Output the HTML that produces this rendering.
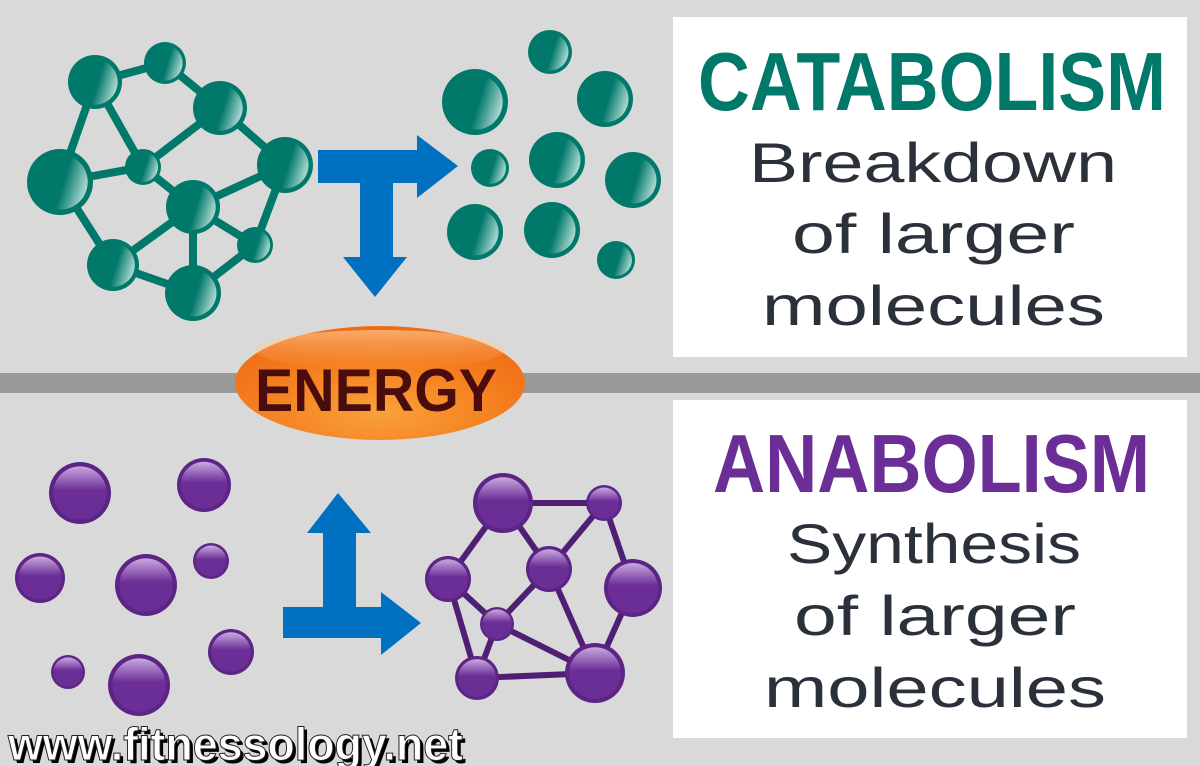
<!DOCTYPE html>
<html><head><meta charset="utf-8"><style>
html,body{margin:0;padding:0;background:#d9d9d9;}
svg{display:block;}
</style></head><body>
<svg width="1200" height="766" viewBox="0 0 1200 766" xmlns="http://www.w3.org/2000/svg">
<defs>
<linearGradient id="tg" x1="0" y1="0.2" x2="1" y2="0.5">
<stop offset="0" stop-color="#00786a"/><stop offset="0.6" stop-color="#00786a"/><stop offset="1" stop-color="#a8d6ce"/>
</linearGradient>
<linearGradient id="pg" x1="0" y1="0" x2="0" y2="1">
<stop offset="0" stop-color="#c9a9e0"/><stop offset="0.45" stop-color="#6b2e96"/><stop offset="1" stop-color="#6b2e96"/>
</linearGradient>
<radialGradient id="og" cx="0.5" cy="0.75" r="0.7">
<stop offset="0" stop-color="#f9a23a"/><stop offset="0.6" stop-color="#f47f1f"/><stop offset="1" stop-color="#f06c12"/>
</radialGradient>
<linearGradient id="oh" x1="0" y1="0" x2="0" y2="1">
<stop offset="0" stop-color="#ffd6a8" stop-opacity="0.6"/><stop offset="1" stop-color="#ffb060" stop-opacity="0"/>
</linearGradient>
<g id="ts"><circle r="1" fill="#00786a"/><circle r="0.84" fill="url(#tg)"/></g>
<g id="ps"><circle r="1" fill="#5c2585"/><circle r="0.86" fill="url(#pg)"/></g>
</defs>
<rect width="1200" height="766" fill="#d9d9d9"/>
<rect x="0" y="373" width="1200" height="20" fill="#999999"/>
<rect x="673" y="17" width="514" height="340" fill="#fff"/>
<rect x="673" y="400" width="514" height="338" fill="#fff"/>

<g stroke="#00786a" stroke-width="8">
<line x1="95" y1="82" x2="165" y2="63"/><line x1="165" y1="63" x2="220" y2="108"/>
<line x1="95" y1="82" x2="60" y2="182"/><line x1="95" y1="82" x2="143" y2="167"/>
<line x1="220" y1="108" x2="143" y2="167"/><line x1="220" y1="108" x2="285" y2="165"/>
<line x1="60" y1="182" x2="143" y2="167"/><line x1="143" y1="167" x2="193" y2="207"/>
<line x1="193" y1="207" x2="285" y2="165"/><line x1="285" y1="165" x2="255" y2="245"/>
<line x1="193" y1="207" x2="255" y2="245"/><line x1="193" y1="207" x2="113" y2="265"/>
<line x1="193" y1="207" x2="193" y2="293"/><line x1="60" y1="182" x2="113" y2="265"/>
<line x1="113" y1="265" x2="193" y2="293"/><line x1="193" y1="293" x2="255" y2="245"/>
</g>
<use href="#ts" transform="translate(95,82) scale(27)"/>
<use href="#ts" transform="translate(165,63) scale(21)"/>
<use href="#ts" transform="translate(220,108) scale(27)"/>
<use href="#ts" transform="translate(285,165) scale(28)"/>
<use href="#ts" transform="translate(60,182) scale(33)"/>
<use href="#ts" transform="translate(143,167) scale(18)"/>
<use href="#ts" transform="translate(193,207) scale(27)"/>
<use href="#ts" transform="translate(255,245) scale(18)"/>
<use href="#ts" transform="translate(113,265) scale(26)"/>
<use href="#ts" transform="translate(193,293) scale(28)"/>

<use href="#ts" transform="translate(550,52) scale(22)"/>
<use href="#ts" transform="translate(475,102) scale(33)"/>
<use href="#ts" transform="translate(605,99) scale(28)"/>
<use href="#ts" transform="translate(490,168) scale(19)"/>
<use href="#ts" transform="translate(557,160) scale(28)"/>
<use href="#ts" transform="translate(633,180) scale(28)"/>
<use href="#ts" transform="translate(475,232) scale(28)"/>
<use href="#ts" transform="translate(552,230) scale(28)"/>
<use href="#ts" transform="translate(616,260) scale(19)"/>

<path d="M318,150 H417 V135 L458,166 L417,198 V183 H393 V257 H407 L375,297 L343,257 H360 V183 H318 Z" fill="#0070c0"/>
<path d="M338,493 L371,533 H356 V607 H381 V592 L421,623 L381,655 V638 H283 V607 H323 V533 H307 Z" fill="#0070c0"/>

<use href="#ps" transform="translate(80,493) scale(31)"/>
<use href="#ps" transform="translate(204,485) scale(27)"/>
<use href="#ps" transform="translate(40,578) scale(25)"/>
<use href="#ps" transform="translate(146,585) scale(31)"/>
<use href="#ps" transform="translate(211,561) scale(18)"/>
<use href="#ps" transform="translate(231,652) scale(23)"/>
<use href="#ps" transform="translate(68,672) scale(17)"/>
<use href="#ps" transform="translate(139,685) scale(31)"/>

<g stroke="#4f1f73" stroke-width="6">
<line x1="503" y1="503" x2="604" y2="503"/><line x1="503" y1="503" x2="448" y2="579"/>
<line x1="503" y1="503" x2="549" y2="569"/><line x1="604" y1="503" x2="549" y2="569"/>
<line x1="604" y1="503" x2="633" y2="588"/><line x1="448" y1="579" x2="497" y2="624"/>
<line x1="448" y1="579" x2="477" y2="678"/><line x1="549" y1="569" x2="497" y2="624"/>
<line x1="549" y1="569" x2="595" y2="673"/><line x1="497" y1="624" x2="477" y2="678"/>
<line x1="497" y1="624" x2="595" y2="673"/><line x1="477" y1="678" x2="595" y2="673"/>
<line x1="633" y1="588" x2="595" y2="673"/>
</g>
<use href="#ps" transform="translate(503,503) scale(30)"/>
<use href="#ps" transform="translate(604,503) scale(18)"/>
<use href="#ps" transform="translate(448,579) scale(23)"/>
<use href="#ps" transform="translate(549,569) scale(23)"/>
<use href="#ps" transform="translate(633,588) scale(29)"/>
<use href="#ps" transform="translate(497,624) scale(17)"/>
<use href="#ps" transform="translate(477,678) scale(22)"/>
<use href="#ps" transform="translate(595,673) scale(30)"/>

<ellipse cx="380" cy="383" rx="145" ry="57" fill="url(#og)"/>
<ellipse cx="380" cy="350" rx="125" ry="20" fill="url(#oh)"/>
<text x="376" y="411" font-family="Liberation Sans, sans-serif" font-weight="bold" font-size="60" fill="#4a0c0c" text-anchor="middle" textLength="242" lengthAdjust="spacingAndGlyphs">ENERGY</text>

<g font-family="Liberation Sans, sans-serif">
<text x="698" y="110" font-weight="bold" font-size="83" fill="#00786a" textLength="468" lengthAdjust="spacingAndGlyphs">CATABOLISM</text>
<text x="749" y="182" font-size="56" fill="#2b313b" textLength="368" lengthAdjust="spacingAndGlyphs">Breakdown</text>
<text x="792" y="253" font-size="56" fill="#2b313b" textLength="283" lengthAdjust="spacingAndGlyphs">of larger</text>
<text x="762" y="325" font-size="56" fill="#2b313b" textLength="343" lengthAdjust="spacingAndGlyphs">molecules</text>
<text x="713" y="492" font-weight="bold" font-size="83" fill="#6b2e96" textLength="437" lengthAdjust="spacingAndGlyphs">ANABOLISM</text>
<text x="787" y="563" font-size="56" fill="#2b313b" textLength="294" lengthAdjust="spacingAndGlyphs">Synthesis</text>
<text x="794" y="635" font-size="56" fill="#2b313b" textLength="282" lengthAdjust="spacingAndGlyphs">of larger</text>
<text x="764" y="707" font-size="56" fill="#2b313b" textLength="342" lengthAdjust="spacingAndGlyphs">molecules</text>
<text x="11" y="763" font-weight="bold" font-size="46" fill="#000" textLength="455" lengthAdjust="spacingAndGlyphs">www.fitnessology.net</text>
<text x="8" y="760" font-weight="bold" font-size="46" fill="#fff" stroke="#222" stroke-width="1" textLength="455" lengthAdjust="spacingAndGlyphs">www.fitnessology.net</text>
</g>
</svg>
</body></html>
